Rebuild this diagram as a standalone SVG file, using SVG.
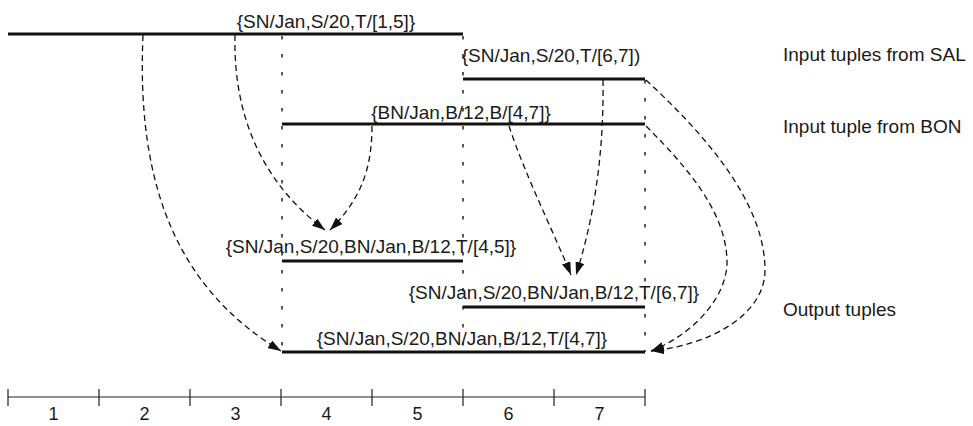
<svg xmlns="http://www.w3.org/2000/svg" width="973" height="426" viewBox="0 0 973 426">
  <style>
    text { font-family: "Liberation Sans", Arial, sans-serif; font-size: 19px; fill: #1a1a1a; }
    .mid { text-anchor: middle; }
    .tuple { stroke: #111; stroke-width: 2.8; fill: none; }
    .guide { stroke: #222; stroke-width: 1.5; stroke-dasharray: 3.5 14.5; fill: none; }
    .flow { stroke: #111; stroke-width: 1.3; stroke-dasharray: 6 4; fill: none; marker-end: url(#arrow); }
    .axis { stroke: #222; stroke-width: 1.2; fill: none; }
    .tick { font-size: 18px; }
  </style>
  <defs>
    <marker id="arrow" markerUnits="userSpaceOnUse" markerWidth="13" markerHeight="9" refX="13" refY="4.5" orient="auto">
      <path d="M0,0 L13,4.5 L0,9 z" fill="#111"/>
    </marker>
  </defs>

  <!-- vertical guides at interval boundaries -->
  <g id="guides">
    <line class="guide" x1="282" y1="36" x2="282" y2="352"/>
    <line class="guide" x1="463" y1="36" x2="463" y2="352"/>
    <line class="guide" x1="645" y1="80" x2="645" y2="352"/>
  </g>

  <!-- input tuples -->
  <g id="sal1">
    <line class="tuple" x1="8" y1="34" x2="463" y2="34"/>
    <text class="mid" x="326" y="28">{SN/Jan,S/20,T/[1,5]}</text>
  </g>
  <g id="sal2">
    <line class="tuple" x1="463" y1="79" x2="645" y2="79"/>
    <text class="mid" x="551" y="62">{SN/Jan,S/20,T/[6,7])</text>
  </g>
  <g id="bon">
    <line class="tuple" x1="282" y1="124" x2="645" y2="124"/>
    <text class="mid" x="461" y="119">{BN/Jan,B/12,B/[4,7]}</text>
  </g>

  <!-- output tuples -->
  <g id="out45">
    <line class="tuple" x1="282" y1="261" x2="463" y2="261"/>
    <text class="mid" x="371" y="253">{SN/Jan,S/20,BN/Jan,B/12,T/[4,5]}</text>
  </g>
  <g id="out67">
    <line class="tuple" x1="463" y1="307" x2="645" y2="307"/>
    <text class="mid" x="554" y="299">{SN/Jan,S/20,BN/Jan,B/12,T/[6,7]}</text>
  </g>
  <g id="out47">
    <line class="tuple" x1="282" y1="352" x2="645" y2="352"/>
    <text class="mid" x="462" y="345">{SN/Jan,S/20,BN/Jan,B/12,T/[4,7]}</text>
  </g>

  <!-- row captions -->
  <g id="captions">
    <text x="783" y="61">Input tuples from SAL</text>
    <text x="783" y="133">Input tuple from BON</text>
    <text x="783" y="316">Output tuples</text>
  </g>

  <!-- derivation arrows -->
  <g id="connectors">
    <path class="flow" d="M143,35 C136,190 180,290 281,351"/>
    <path class="flow" d="M235,35 C233,120 265,185 325,230"/>
    <path class="flow" d="M372,126 C372,170 360,200 330,230"/>
    <path class="flow" d="M509,126 C525,175 555,235 571,275"/>
    <path class="flow" d="M603,80 C604,150 595,215 576,275"/>
    <path class="flow" d="M646,80 C700,130 765,200 765,270 C765,315 710,345 651,351"/>
    <path class="flow" d="M646,126 C690,170 728,215 727,265 C724,305 685,338 651,351"/>
  </g>

  <!-- time axis -->
  <g id="axis">
    <line class="axis" x1="8" y1="397" x2="645" y2="397"/>
    <path class="axis" d="M8,389V406 M99,389V406 M190,389V406 M281,389V406 M372,389V406 M463,389V406 M554,389V406 M645,389V406"/>
    <text class="mid tick" x="53.5" y="420">1</text>
    <text class="mid tick" x="144.5" y="420">2</text>
    <text class="mid tick" x="235.5" y="420">3</text>
    <text class="mid tick" x="326.5" y="420">4</text>
    <text class="mid tick" x="417.5" y="420">5</text>
    <text class="mid tick" x="508.5" y="420">6</text>
    <text class="mid tick" x="599.5" y="420">7</text>
  </g>
</svg>
